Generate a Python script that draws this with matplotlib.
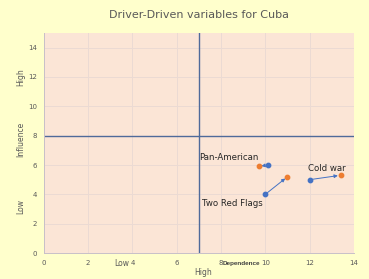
import matplotlib.pyplot as plt

# driver-driven variables: (dependence, influence) before -> after
names = ['Pan-American', 'Two Red Flags', 'Cold war']
start_x = [10.1, 10.0, 12.0]
start_y = [6.0, 4.0, 5.0]
end_x = [9.7, 11.0, 13.4]
end_y = [5.9, 5.2, 5.3]
label_xy = [(7.0, 6.5), (7.15, 3.4), (11.95, 5.75)]

x_ticks = [0, 2, 4, 6, 8, 10, 12, 14]
y_ticks = [0, 2, 4, 6, 8, 10, 12, 14]

fig = plt.figure(figsize=(3.69, 2.79), dpi=100, facecolor='#FFFFCC')
ax = fig.add_axes([0.119, 0.093, 0.84, 0.789])
ax.set_facecolor('#FBE5D6')

ax.set_xlim(0, 14)
ax.set_ylim(0, 15)
ax.set_xticks(x_ticks)
ax.set_yticks(y_ticks)
ax.grid(color='#EBDAD3', lw=0.7)
ax.set_axisbelow(True)
for s in ['top', 'right']:
    ax.spines[s].set_visible(False)
for s in ['left', 'bottom']:
    ax.spines[s].set_color('#C8C0C8')
    ax.spines[s].set_linewidth(0.7)
ax.tick_params(length=0, labelsize=5, colors='#595959', pad=5)

# quadrant dividers
ax.axvline(7, color='#4F6A9A', lw=1.0)
ax.axhline(8, color='#4F6A9A', lw=1.0)

for i in range(len(names)):
    ax.annotate('', xy=(end_x[i], end_y[i]), xytext=(start_x[i], start_y[i]),
                arrowprops=dict(arrowstyle='-|>', color='#4472C4', lw=0.7,
                                mutation_scale=5, shrinkA=2, shrinkB=2))
ax.scatter(end_x, end_y, s=10, color='#ED7D31', zorder=3)
ax.scatter(start_x, start_y, s=10, color='#4472C4', zorder=3)
for i, n in enumerate(names):
    ax.text(label_xy[i][0], label_xy[i][1], n, fontsize=6.2, color='#262626',
            va='center')

ax.set_title('Driver-Driven variables for Cuba', fontsize=8, color='#595959', pad=11)

# axis captions placed like the original
fig.text(0.350, 0.057, 'Low', fontsize=5.5, color='#595959', ha='right', va='center')
fig.text(0.654, 0.057, 'Dependence', fontsize=4.6, color='#404040', ha='center', va='center',
         fontweight='bold', family='Liberation Sans')
fig.text(0.55, 0.022, 'High', fontsize=5.5, color='#595959', ha='center', va='center')
fig.text(0.055, 0.725, 'High', fontsize=5.5, color='#595959', ha='center', va='center', rotation=90)
fig.text(0.055, 0.50, 'Influence', fontsize=5.5, color='#595959', ha='center', va='center', rotation=90)
fig.text(0.055, 0.26, 'Low', fontsize=5.5, color='#595959', ha='center', va='center', rotation=90)

fig.savefig('out.png', dpi=100, facecolor=fig.get_facecolor())
